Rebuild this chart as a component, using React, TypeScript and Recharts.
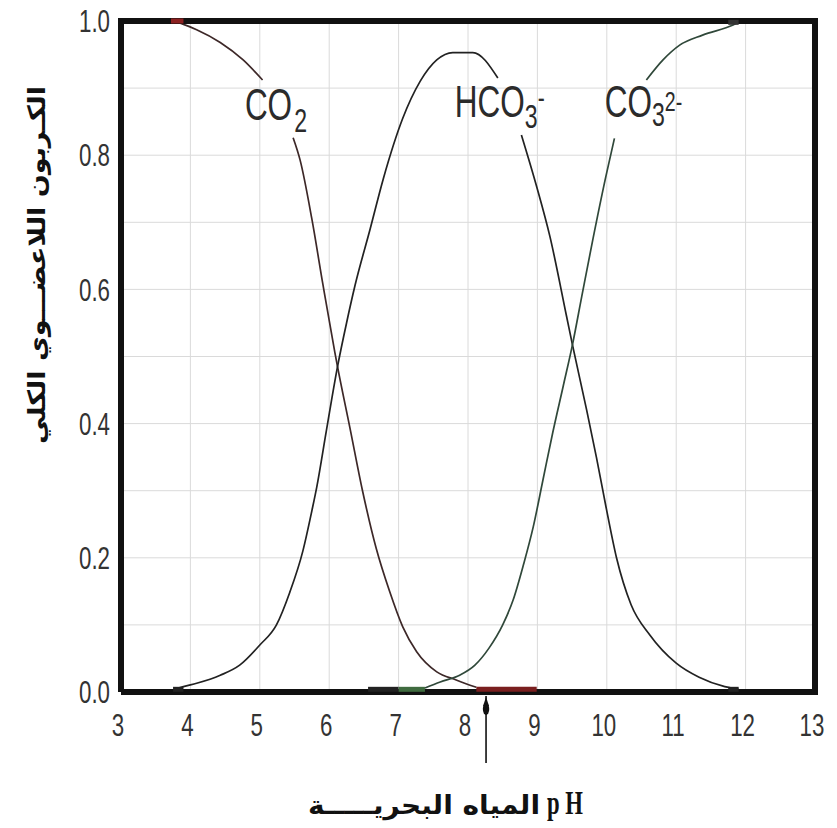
import React from 'react'
import {
  LineChart,
  Line,
  XAxis,
  YAxis,
  CartesianGrid,
  ReferenceDot,
  ReferenceLine
} from 'recharts'

// pH ticks and fraction ticks
const phTicks = [3, 4, 5, 6, 7, 8, 9, 10, 11, 12, 13]
const fracTicks = [0, 0.1, 0.2, 0.3, 0.4, 0.5, 0.6, 0.7, 0.8, 0.9, 1.0]

// CO2 curve
const co2Ph = [3.72, 3.9, 4.09, 4.43, 4.76, 5.04, 5.48, 5.58, 5.75, 5.91, 6.08, 6.12, 6.3, 6.48, 6.68, 6.87, 7.06, 7.26, 7.55, 7.83, 8.12]
const co2Frac = [1.0, 0.995, 0.987, 0.968, 0.942, 0.912, 0.826, 0.793, 0.705, 0.607, 0.507, 0.485, 0.393, 0.3, 0.213, 0.15, 0.097, 0.06, 0.03, 0.018, 0.007]
const co2Break = 5.26

// HCO3- curve
const hco3Ph = [3.78, 3.9, 4.09, 4.43, 4.71, 5.0, 5.24, 5.43, 5.62, 5.75, 5.82, 5.96, 6.12, 6.25, 6.37, 6.59, 6.78, 7.06, 7.31, 7.55, 7.78, 8.07, 8.43, 8.77, 8.99, 9.18, 9.42, 9.51, 9.71, 9.85, 9.99, 10.14, 10.35, 10.62, 11.0, 11.33, 11.7, 11.9]
const hco3Frac = [0.004, 0.008, 0.013, 0.025, 0.04, 0.07, 0.1, 0.148, 0.21, 0.27, 0.305, 0.39, 0.485, 0.55, 0.605, 0.69, 0.765, 0.855, 0.91, 0.942, 0.953, 0.953, 0.915, 0.83, 0.753, 0.679, 0.56, 0.515, 0.42, 0.35, 0.275, 0.2, 0.13, 0.085, 0.043, 0.022, 0.008, 0.004]
const hco3Break = 8.6

// CO3 2- curve
const co3Ph = [7.38, 7.6, 7.88, 8.1, 8.3, 8.5, 8.65, 8.8, 8.94, 9.08, 9.22, 9.37, 9.51, 9.64, 9.8, 9.99, 10.11, 10.57, 10.81, 11.05, 11.38, 11.82, 11.9]
const co3Frac = [0.006, 0.015, 0.025, 0.04, 0.065, 0.1, 0.137, 0.19, 0.246, 0.316, 0.386, 0.455, 0.52, 0.59, 0.675, 0.77, 0.825, 0.912, 0.942, 0.964, 0.979, 0.994, 0.998]
const co3Break = 10.34

// thick flat tails near 0 and 1
const co3TailDarkPh = [6.56, 7.0]
const co3TailGreenPh = [7.0, 7.38]
const co2TailPh = [8.12, 8.99]
const tailFrac = [0.004, 0.004]
const co2StartPh = [3.72, 3.9]
const co2StartFrac = [1.0, 1.0]
const hco3StartPh = [3.75, 3.9]
const hco3EndPh = [11.75, 11.9]
const co3EndPh = [11.75, 11.9]
const co3EndFrac = [0.998, 0.998]

// plot frame corners
const framePh = [3, 3, 13, 13, 3]
const frameFrac = [0, 1, 1, 0, 0]

// seawater pH arrow
const seawaterPh = 8.26

const buildSeries = (ph: number[], frac: number[], breakAt?: number) => {
  const pts: { ph: number; v: number | null }[] = ph.map((p, i) => ({ ph: p, v: frac[i] }))
  if (breakAt !== undefined) {
    const idx = pts.findIndex((d) => d.ph > breakAt)
    pts.splice(idx, 0, { ph: breakAt, v: null })
  }
  return pts
}

const co2Data = buildSeries(co2Ph, co2Frac, co2Break)
const hco3Data = buildSeries(hco3Ph, hco3Frac, hco3Break)
const co3Data = buildSeries(co3Ph, co3Frac, co3Break)
const frameData = buildSeries(framePh, frameFrac)

const FONT = "'Liberation Sans', Arial, sans-serif"

const YTick = (props: any) => {
  const { x, y, payload } = props
  const v = payload.value
  if (Math.round(v * 10) % 2 !== 0) return null
  return (
    <g transform={`translate(${x},${y}) scale(0.72,1)`}>
      <text x={0} y={0} dy="0.36em" textAnchor="end" fontFamily={FONT} fontSize={31} fill="#333">
        {v.toFixed(1)}
      </text>
    </g>
  )
}

const XTick = (props: any) => {
  const { x, y, payload } = props
  return (
    <g transform={`translate(${x - 3},${y + 44}) scale(0.72,1)`}>
      <text x={0} y={0} textAnchor="middle" fontFamily={FONT} fontSize={31} fill="#333">
        {payload.value}
      </text>
    </g>
  )
}

const SpeciesLabel = ({ cx, cy, kind }: any) => {
  let parts
  if (kind === 'co2') {
    parts = (
      <>
        <tspan>CO</tspan>
        <tspan fontSize={33} dx={3} dy={12}>2</tspan>
      </>
    )
  } else if (kind === 'hco3') {
    parts = (
      <>
        <tspan>HCO</tspan>
        <tspan fontSize={33} dy={11}>3</tspan>
        <tspan fontSize={30} dy={-20}>-</tspan>
      </>
    )
  } else {
    parts = (
      <>
        <tspan>CO</tspan>
        <tspan fontSize={33} dy={9}>3</tspan>
        <tspan fontSize={28} dy={-15}>2-</tspan>
      </>
    )
  }
  return (
    <g transform={`translate(${cx},${cy}) scale(0.7,1)`}>
      <text x={0} y={0} fontFamily={FONT} fontSize={45} fill="#2b2b2b">
        {parts}
      </text>
    </g>
  )
}

const YTitle = (props: any) => {
  const vb = props.viewBox || { x: 33, y: 13 }
  const cx = vb.x - 4
  const cy = vb.y + 244
  return (
    <text
      x={cx}
      y={cy}
      transform={`rotate(-90, ${cx}, ${cy})`}
      textAnchor="middle"
      dominantBaseline="central"
      fontFamily="'DejaVu Sans', sans-serif"
      fontWeight="bold"
      fontSize={24}
      textLength={358}
      lengthAdjust="spacingAndGlyphs"
      fill="#111"
    >
      الكـربون  اللاعضـــوي  الكلي
    </text>
  )
}

const XTitle = (props: any) => {
  const vb = props.viewBox || { x: 113, y: 684 }
  const base = vb.y + 122
  return (
    <g>
      <text
        x={vb.x + 419}
        y={base}
        textAnchor="end"
        fontFamily="'DejaVu Sans', sans-serif"
        fontWeight="bold"
        fontSize={26}
        textLength={232}
        lengthAdjust="spacingAndGlyphs"
        fill="#111"
      >
        المياه البحريـــــة
      </text>
      <text
        x={vb.x + 426}
        y={base}
        fontFamily="'Liberation Serif', serif"
        fontWeight="bold"
        fontSize={34}
        textLength={36}
        lengthAdjust="spacingAndGlyphs"
        fill="#111"
      >
        p H
      </text>
    </g>
  )
}

const Arrow = (props: any) => {
  const { x1, y1, y2 } = props
  const bottom = Math.max(y1, y2)
  return (
    <g>
      <line x1={x1} y1={bottom + 4} x2={x1} y2={bottom + 71} stroke="#111" strokeWidth={1.6} />
      <ellipse cx={x1} cy={bottom + 17} rx={3.2} ry={6} fill="#111" />
      <path d={`M${x1} ${bottom + 5} L${x1 - 3} ${bottom + 14} L${x1 + 3} ${bottom + 14} Z`} fill="#111" />
    </g>
  )
}

export default function App() {
  return (
    <LineChart width={829} height={820} margin={{ top: 13, right: 22, bottom: 8, left: 33 }}>
      <CartesianGrid stroke="#dadada" strokeWidth={1} />
      <XAxis
        dataKey="ph"
        type="number"
        domain={[3, 13]}
        ticks={phTicks}
        axisLine={false}
        tickLine={false}
        tickSize={0}
        tickMargin={0}
        height={128}
        tick={<XTick />}
        label={{ content: (p: any) => <XTitle {...p} /> }}
      />
      <YAxis
        type="number"
        domain={[0, 1]}
        ticks={fracTicks}
        axisLine={false}
        tickLine={false}
        tickSize={0}
        tickMargin={11}
        width={80}
        tick={<YTick />}
        label={{ content: (p: any) => <YTitle {...p} /> }}
      />
      <Line data={co2Data} dataKey="v" type="monotone" stroke="#3d2828" strokeWidth={1.7} dot={false} isAnimationActive={false} />
      <Line data={hco3Data} dataKey="v" type="monotone" stroke="#222" strokeWidth={1.7} dot={false} isAnimationActive={false} />
      <Line data={co3Data} dataKey="v" type="monotone" stroke="#30483a" strokeWidth={1.7} dot={false} isAnimationActive={false} />
      <Line data={frameData} dataKey="v" type="linear" stroke="#111" strokeWidth={6} strokeLinejoin="miter" dot={false} isAnimationActive={false} />
      <Line data={buildSeries(co3TailDarkPh, tailFrac)} dataKey="v" stroke="#222" strokeWidth={5} dot={false} isAnimationActive={false} />
      <Line data={buildSeries(co3TailGreenPh, tailFrac)} dataKey="v" stroke="#3f6b3f" strokeWidth={5} dot={false} isAnimationActive={false} />
      <Line data={buildSeries(co2TailPh, tailFrac)} dataKey="v" stroke="#7a1f1f" strokeWidth={5} dot={false} isAnimationActive={false} />
      <Line data={buildSeries(co2StartPh, co2StartFrac)} dataKey="v" stroke="#8b2020" strokeWidth={5} dot={false} isAnimationActive={false} />
      <Line data={buildSeries(hco3StartPh, tailFrac)} dataKey="v" stroke="#222" strokeWidth={5} dot={false} isAnimationActive={false} />
      <Line data={buildSeries(hco3EndPh, tailFrac)} dataKey="v" stroke="#222" strokeWidth={5} dot={false} isAnimationActive={false} />
      <Line data={buildSeries(co3EndPh, co3EndFrac)} dataKey="v" stroke="#333" strokeWidth={5} dot={false} isAnimationActive={false} />
      <ReferenceDot x={4.785} y={0.852} r={0} shape={(p: any) => <SpeciesLabel {...p} kind="co2" />} />
      <ReferenceDot x={7.81} y={0.857} r={0} shape={(p: any) => <SpeciesLabel {...p} kind="hco3" />} />
      <ReferenceDot x={9.97} y={0.857} r={0} shape={(p: any) => <SpeciesLabel {...p} kind="co3" />} />
      <ReferenceLine x={seawaterPh} stroke="none" ifOverflow="visible" shape={(p: any) => <Arrow {...p} />} />
    </LineChart>
  )
}
